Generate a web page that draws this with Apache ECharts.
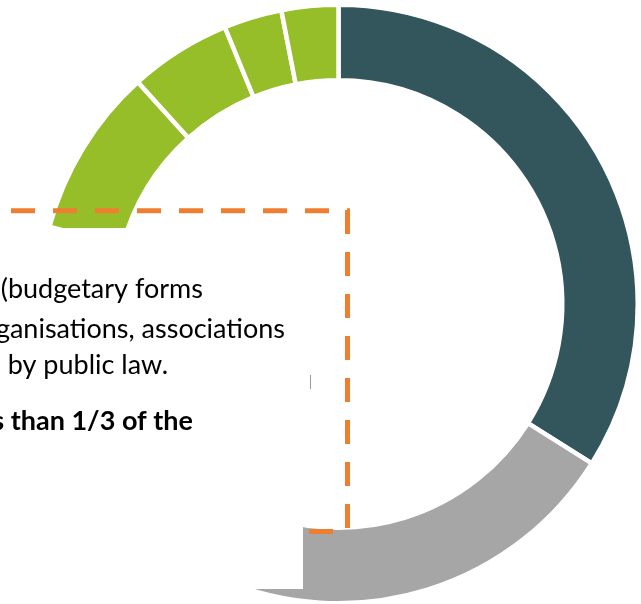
<!DOCTYPE html>
<html>
<head>
<meta charset="utf-8">
<script src="https://cdn.jsdelivr.net/npm/echarts@6/dist/echarts.min.js"></script>
<style>
html,body{margin:0;padding:0;background:#fff;}
#chart{width:641px;height:604px;}
</style>
</head>
<body>
<div id="chart"></div>
<script>
// Segment names (unlabelled in the picture) and their shares (%)
var categories = ['Public law bodies', 'Segment 2', 'Segment 3', 'Segment 4', 'Segment 5', 'Segment 6', 'Segment 7', 'Segment 8'];
var values = [33.94, 22.5, 12.0, 10.72, 9.14, 5.5, 3.14, 3.06];
var colors = ['#33565C', '#A6A6A6', '#96BE28', '#96BE28', '#96BE28', '#96BE28', '#96BE28', '#96BE28'];

// Text box lines (partly hidden at the left edge of the picture)
var textLines = ['(budgetary forms', 'organisations, associations', 'by public law.'];
var boldLine = 'less than 1/3 of the';

var chart = echarts.init(document.getElementById('chart'), null, {renderer: 'canvas'});

var FONT = '27px Lato';
var FONTB = 'bold 27px Lato';

var option = {
  animation: false,
  backgroundColor: '#ffffff',
  series: [{
    type: 'pie',
    center: [338.5, 304],
    radius: [223.75, 299.25],
    startAngle: 90,
    clockwise: true,
    silent: true,
    label: {show: false},
    labelLine: {show: false},
    emphasis: {disabled: true},
    itemStyle: {borderColor: '#ffffff', borderWidth: 4.5},
    data: categories.map(function (c, i) {
      return {name: c, value: values[i], itemStyle: {color: colors[i]}};
    })
  }],
  graphic: [
    // dashed orange frame
    {type: 'line', z: 10, shape: {x1: -31, y1: 210.7, x2: 350, y2: 210.7},
     style: {stroke: '#EE7F31', lineWidth: 5, lineDash: [24, 18]}},
    {type: 'line', z: 10, shape: {x1: 347.5, y1: 210, x2: 347.5, y2: 531.5},
     style: {stroke: '#EE7F31', lineWidth: 5, lineDash: [24, 18]}},
    {type: 'line', z: 10, shape: {x1: 333, y1: 531.5, x2: -20, y2: 531.5},
     style: {stroke: '#EE7F31', lineWidth: 5, lineDash: [24, 18]}},
    // white text box
    {type: 'rect', z: 20, shape: {x: -10, y: 228, width: 313, height: 361},
     style: {fill: '#ffffff'}},
    {type: 'line', z: 21, shape: {x1: 310.5, y1: 375, x2: 310.5, y2: 389},
     style: {stroke: '#9a9a9a', lineWidth: 1}},
    // texts
    {type: 'text', z: 30, x: 203, y: 303,
     style: {text: textLines[0], font: FONT, fill: '#000', textAlign: 'right', textVerticalAlign: 'bottom'}},
    {type: 'text', z: 30, x: 285, y: 343,
     style: {text: textLines[1], font: FONT, fill: '#000', textAlign: 'right', textVerticalAlign: 'bottom'}},
    {type: 'text', z: 30, x: 168, y: 379,
     style: {text: textLines[2], font: FONT, fill: '#000', textAlign: 'right', textVerticalAlign: 'bottom'}},
    {type: 'text', z: 30, x: 193, y: 435,
     style: {text: boldLine, font: FONTB, fill: '#000', textAlign: 'right', textVerticalAlign: 'bottom'}}
  ]
};
chart.setOption(option);
</script>
</body>
</html>
